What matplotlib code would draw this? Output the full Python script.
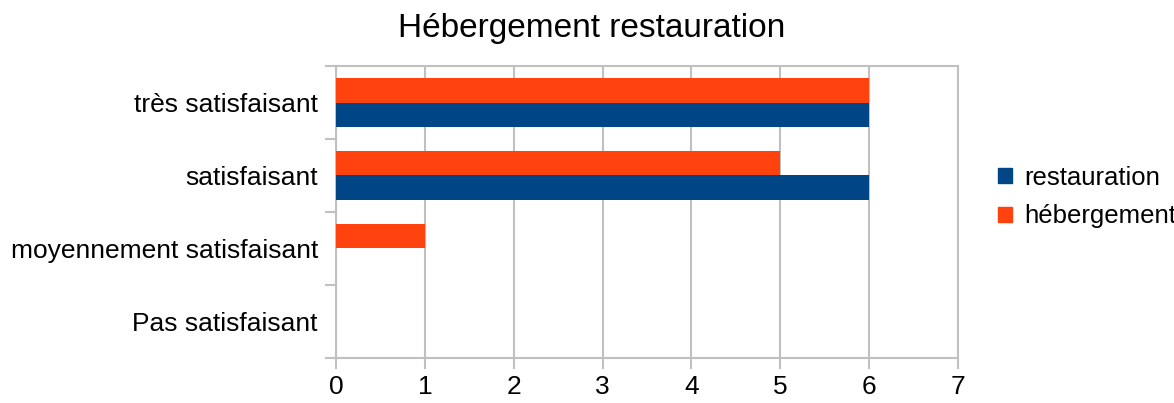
import numpy as np
import matplotlib.pyplot as plt
from matplotlib.patches import Patch

plt.rcParams["font.family"] = ["Liberation Sans", "DejaVu Sans"]

# -----------------------------
# Data
# -----------------------------
categories = [
    "Pas satisfaisant",
    "moyennement satisfaisant",
    "satisfaisant",
    "très satisfaisant",
]
restauration = [0, 0, 6, 6]
hebergement = [0, 1, 5, 6]

blue = "#004586"
orange = "#ff420e"
grey = "#c0c0c0"

# -----------------------------
# Plot
# -----------------------------
fig = plt.figure(figsize=(11.74, 4.03), dpi=100)
ax = fig.add_axes([336 / 1174, 1 - 358 / 403, 622 / 1174, 292 / 403])

y = np.arange(len(categories))
h = 0.33

ax.barh(y - h / 2, restauration, height=h, color=blue, zorder=3)
ax.barh(y + h / 2, hebergement, height=h, color=orange, zorder=3)

ax.set_xlim(0, 7)
ax.set_ylim(-0.5, len(categories) - 0.5)

ax.set_xticks(range(8))
ax.set_yticks(y)
ax.set_yticklabels(categories)
ax.set_yticks(np.arange(-0.5, len(categories)), minor=True)

ax.tick_params(axis="y", which="major", length=0, pad=13, labelsize=19)
ax.tick_params(axis="y", which="minor", length=8, color=grey, width=1.5)
ax.tick_params(axis="x", length=8, color=grey, width=1.5, labelsize=19, pad=4)

ax.grid(axis="x", color=grey, linewidth=1.5, zorder=0)
for s in ax.spines.values():
    s.set_color(grey)
    s.set_linewidth(1.5)

fig.suptitle("Hébergement restauration", fontsize=24, x=592 / 1174, y=1 - 28 / 403, va="center")

handles = [Patch(color=blue, label="restauration"), Patch(color=orange, label="hébergement")]
fig.legend(
    handles=handles,
    loc="center left",
    bbox_to_anchor=(975 / 1174, 1 - 197 / 403),
    frameon=False,
    fontsize=18.5,
    handlelength=0.55,
    handleheight=0.55,
    handletextpad=0.45,
    labelspacing=0.58,
)

plt.savefig("out.png", dpi=100)
plt.close()
